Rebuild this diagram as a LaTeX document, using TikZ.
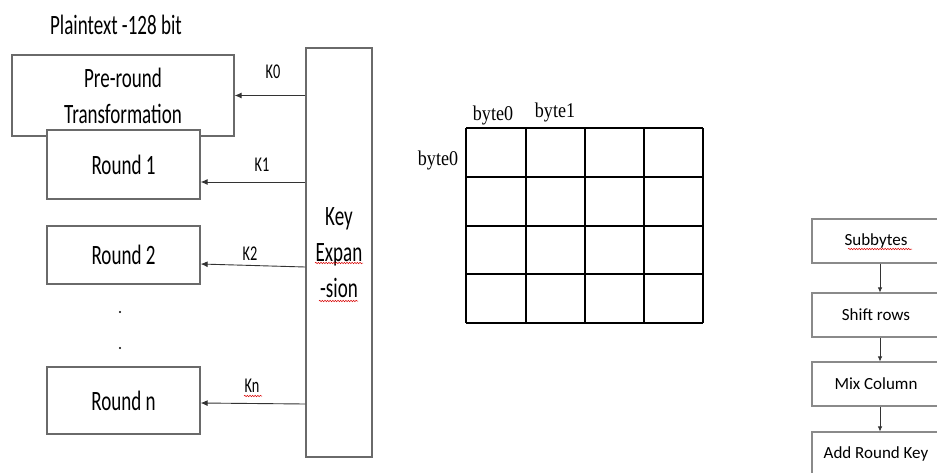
\documentclass[tikz,border=0pt]{standalone}
\usepackage{fontspec}
\usetikzlibrary{arrows.meta,decorations.pathmorphing}
\setmainfont{Carlito}
\newfontfamily\calnarrow[FakeStretch=0.68]{Carlito}
\newfontfamily\timesnarrow[FakeStretch=0.86]{Liberation Serif}
\definecolor{boxgray}{HTML}{6A6A6A}
\definecolor{lightgray}{HTML}{8A8A8A}
\tikzset{
  bigtext/.style={font=\calnarrow\fontsize{28}{36}\selectfont},
  stage/.style={draw=boxgray, line width=1.3pt, fill=white, bigtext, inner sep=0pt},
  keylab/.style={font=\calnarrow\fontsize{21}{24}\selectfont, inner sep=0pt},
  bytelab/.style={font=\timesnarrow\fontsize{21}{24}\selectfont, inner sep=0pt},
  step box/.style={draw=lightgray, line width=1.1pt, fill=white,
    font=\fontsize{17}{19}\selectfont, minimum width=128pt, minimum height=44pt, inner sep=0pt},
  arr/.style={-{Latex[length=7pt,width=6pt]}, line width=0.9pt, black!80},
  smallarr/.style={-{Latex[length=5pt,width=4.5pt]}, line width=0.7pt, black!80},
  spell/.style={red!85!black, line width=0.5pt,
    decorate, decoration={snake, amplitude=0.7pt, segment length=2.6pt}},
  gridline/.style={line width=1.3pt, black}
}
\begin{document}
\begin{tikzpicture}[x=1pt,y=-1pt]
\useasboundingbox (0,0) rectangle (937,472);
\clip (0,0) rectangle (937,472);

% title
\node[bigtext, inner sep=0pt] (title) at (116,25) {Plaintext -128 bit};

% round stack
\node[stage, minimum width=222pt, minimum height=81pt, align=center] (pre) at (123,95.5)
  {Pre-round\\Transformation};
\node[stage, minimum width=153pt, minimum height=69pt] (r1) at (123.5,164.5) {Round 1};
\node[stage, minimum width=153pt, minimum height=58pt] (r2) at (123.5,255) {Round 2};
\node[stage, minimum width=153pt, minimum height=67pt] (rn) at (123.5,400.5) {Round n};

% key schedule column
\node[stage, minimum width=66pt, minimum height=409pt, align=center] (key) at (339,252.5)
  {Key\\Expan\\-sion};

% ellipsis between rounds
\fill (120,312) circle (1.1pt);
\fill (120,348) circle (1.1pt);

% round keys
\draw[arr] (pre.east -| key.west) -- (pre.east);
\draw[arr] ([yshift=-17.5pt]r1.east -| key.west) -- ([yshift=-17.5pt]r1.east);
\draw[arr] ([yshift=-12pt]r2.east -| key.west) -- ([yshift=-9pt]r2.east);
\draw[arr] ([yshift=-3.5pt]rn.east -| key.west) -- ([yshift=-2.5pt]rn.east);
\node[keylab] (k0) at (273,72) {K0};
\node[keylab] (k1) at (262,165) {K1};
\node[keylab] (k2) at (250,254) {K2};
\node[keylab] (kn) at (252,386) {Kn};

% spell-check marks
\draw[spell] (315,263) -- (363,263);
\draw[spell] (319,301) -- (358,301);
\draw[spell] (244,396) -- (262,396);

% state array
\foreach \x in {466,526,585,644,703} \draw[gridline] (\x,128) -- (\x,323);
\foreach \y in {128,177,226,274,323} \draw[gridline] (466,\y) -- (703,\y);
\node[bytelab] (c0) at (493,115) {byte0};
\node[bytelab] (c1) at (555,112) {byte1};
\node[bytelab] (rw0) at (438,160) {byte0};

% round steps
\node[step box] (sb) at (876,241) {Subbytes};
\node[step box] (sr) at (876,315) {Shift rows};
\node[step box] (mc) at (876,384) {Mix Column};
\node[step box] (ark) at (876,454) {Add Round Key};
\draw[smallarr] ([xshift=4pt]sb.south) -- ([xshift=4pt]sr.north);
\draw[smallarr] ([xshift=4pt]sr.south) -- ([xshift=4pt]mc.north);
\draw[smallarr] ([xshift=4pt]mc.south) -- ([xshift=4pt]ark.north);
\draw[spell] (848,249) -- (912,249);
\end{tikzpicture}
\end{document}
